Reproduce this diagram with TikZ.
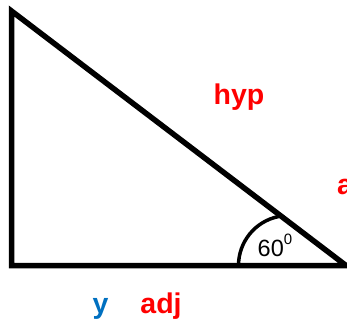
\documentclass[tikz,border=0pt]{standalone}
\usepackage{fontspec}
\setmainfont{Liberation Sans}
\definecolor{lblred}{RGB}{255,0,0}
\definecolor{lblblue}{RGB}{0,112,192}
\begin{document}
\begin{tikzpicture}[x=1pt,y=1pt,
  side/.style={line width=5.5pt,line join=miter,line cap=rect},
  anglearc/.style={line width=3.5pt},
  redlbl/.style={text=lblred,font=\fontsize{28.5}{30}\selectfont\bfseries,inner sep=0pt},
  bluelbl/.style={text=lblblue,font=\fontsize{28.5}{30}\selectfont\bfseries,inner sep=0pt},
  anglelbl/.style={font=\fontsize{23.5}{26}\selectfont,inner sep=0pt}]
\useasboundingbox (0,0) rectangle (347,321);
\clip (0,0) rectangle (347,321);
\coordinate (A) at (11.5,310);
\coordinate (B) at (11.5,55.5);
\coordinate (C) at (346,55.5);
\draw[side] (C) -- (B) -- (A) -- cycle;
\coordinate (arcstart) at (238.5,55.5);
\draw[anglearc] (arcstart) arc[start angle=180,end angle=101.5,radius=50];
\node[redlbl,anchor=base] (hyp) at (239,216) {hyp};
\node[redlbl,anchor=base west] (opp) at (337,126) {a};
\node[bluelbl,anchor=base] (y) at (100.5,8) {y};
\node[redlbl,anchor=base] (adj) at (161,8) {adj};
\node[anglelbl,anchor=base west] (ang) at (257.5,65) {60\raisebox{11.5pt}{\fontsize{15}{16}\selectfont 0}};
\end{tikzpicture}
\end{document}
